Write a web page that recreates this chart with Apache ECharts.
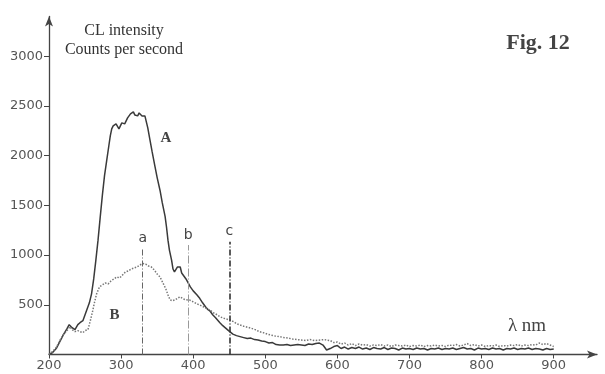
<!DOCTYPE html>
<html>
<head>
<meta charset="utf-8">
<script src="https://cdn.jsdelivr.net/npm/echarts@6/dist/echarts.min.js"></script>
<style>
html,body{margin:0;padding:0;background:#fff;}
#chart{width:605px;height:374px;}
</style>
</head>
<body>
<div id="chart"></div>
<script>
// Wavelength (nm) / intensity (counts per second)
var curveA = [
[200,0],[205,20],[210,60],[215,130],[220,200],[225,260],[228,300],[232,270],[236,250],[240,300],[243,320],[247,340],
[250,400],[253,460],[256,520],[259,610],[262,760],[265,950],[268,1150],[271,1380],[274,1600],[277,1800],[280,1950],
[283,2100],[285,2200],[287,2270],[289,2300],[291,2280],[293,2320],[295,2300],[297,2270],[299,2300],[301,2330],[303,2340],
[305,2320],[307,2350],[309,2380],[311,2390],[313,2420],[315,2400],[317,2440],[319,2410],[321,2420],[323,2400],[325,2430],
[327,2410],[329,2400],[331,2420],[333,2400],[335,2340],[337,2280],[340,2160],[343,2040],[347,1890],[350,1780],[354,1650],
[357,1530],[361,1390],[363,1280],[365,1150],[367,1050],[370,950],[372,860],[374,830],[376,850],[378,880],[380,900],
[382,880],[384,820],[387,790],[390,760],[393,720],[396,680],[400,640],[405,600],[409,565],[413,520],[417,480],[420,455],
[423,440],[427,400],[431,370],[434,345],[437,320],[441,290],[445,265],[449,240],[451,225],[455,205],[460,190],[465,180],
[470,170],[475,160],[480,165],[485,150],[490,145],[495,135],[500,130],[505,115],[510,120],[515,100],[520,96],[525,95],
[530,100],[535,90],[540,95],[545,100],[550,95],[555,90],[560,105],[565,100],[570,110],[575,115],[580,95],[585,45],
[590,60],[595,80],[600,90],[605,60],[610,75],[615,55],[620,70],[625,60],[630,75],[635,55],[640,65],[645,50],[650,70],
[655,60],[660,55],[665,70],[670,50],[675,65],[680,60],[685,45],[690,65],[695,55],[700,60],[705,50],[710,65],[715,55],
[720,60],[725,45],[730,60],[735,55],[740,65],[745,50],[750,60],[755,55],[760,65],[765,50],[770,60],[775,70],[780,55],
[785,60],[790,45],[795,65],[800,55],[805,60],[810,50],[815,65],[820,55],[825,60],[830,45],[835,60],[840,55],[845,65],
[850,50],[855,60],[860,55],[865,65],[870,50],[875,60],[880,55],[885,45],[890,60],[895,50],[900,55]
];
var curveB = [
[200,0],[205,30],[210,70],[215,140],[220,200],[225,240],[229,280],[232,250],[236,230],[240,240],[243,230],[247,220],
[250,240],[254,250],[257,330],[260,420],[263,520],[266,610],[270,680],[274,700],[278,720],[282,710],[286,740],[290,760],
[294,780],[298,770],[302,800],[306,830],[310,840],[314,860],[318,870],[322,880],[326,900],[330,915],[334,910],[338,890],
[342,880],[346,850],[350,810],[354,780],[358,720],[362,660],[365,600],[368,550],[371,540],[375,550],[379,570],[382,580],
[386,560],[390,550],[395,548],[400,530],[405,510],[409,498],[414,480],[418,465],[423,448],[428,420],[433,400],[437,380],
[442,365],[447,355],[451,347],[456,330],[460,310],[465,297],[470,285],[475,275],[480,265],[486,250],[492,229],[497,220],
[503,205],[508,195],[514,185],[520,179],[526,170],[532,165],[538,155],[544,150],[550,146],[556,140],[562,150],[568,140],
[576,146],[582,150],[590,140],[595,120],[600,125],[605,105],[610,115],[615,95],[620,110],[625,90],[630,105],[635,95],
[640,100],[645,85],[650,95],[655,90],[660,100],[665,85],[670,95],[675,80],[680,95],[685,90],[690,85],[695,95],[700,80],
[705,90],[710,85],[715,95],[720,80],[725,90],[730,85],[735,95],[740,85],[745,90],[750,80],[755,95],[760,90],[765,100],
[770,85],[775,95],[780,110],[785,90],[790,100],[795,85],[800,95],[805,80],[810,90],[815,85],[820,95],[825,80],[830,90],
[835,85],[840,95],[845,90],[850,100],[855,85],[860,95],[865,90],[870,100],[875,95],[880,115],[885,100],[890,110],
[895,95],[900,80]
];
var xTicks = [200,300,400,500,600,700,800,900];
var yTicks = [500,1000,1500,2000,2500,3000];
var markerNames = ['a','b','c'];
var markerX = [330,393,450];
var markerTop = [1071,1101,1135];
var curveLabels = [['A',362,2178],['B',291,397]];

var chart = echarts.init(document.getElementById('chart'), null, {renderer:'canvas'});
var tickFont = {fontFamily:'DejaVu Sans', fontSize:13, color:'#555', formatter:function(v){return String(v);}};
var markerStyles = [
  {color:'#666', width:1, type:[6,2,1,2]},
  {color:'#999', width:1, type:[8,2,1,2]},
  {color:'#333', width:1.6, type:[6,2,1,2]}
];
var mlData = markerX.map(function(x,i){
  return [
    {coord:[x,0], lineStyle:markerStyles[i]},
    {coord:[x,markerTop[i]], label:{show:true, formatter:markerNames[i], position:'end', distance:3,
      fontFamily:'DejaVu Sans', fontSize:14, color:'#444'}}
  ];
});
var option = {
  backgroundColor:'#ffffff',
  animation:false,
  grid:{left:49, right:8, top:16.5, bottom:19.5},
  xAxis:{
    type:'value', min:200, max:960,
    axisLine:{show:true, lineStyle:{color:'#444', width:1.3}, symbol:['none','arrow'], symbolSize:[6,10]},
    axisTick:{show:true, length:4, inside:false, customValues:xTicks, lineStyle:{color:'#444'}},
    axisLabel:Object.assign({customValues:xTicks, margin:5}, tickFont),
    splitLine:{show:false}
  },
  yAxis:{
    type:'value', min:0, max:3400,
    axisLine:{show:true, lineStyle:{color:'#444', width:1.3}, symbol:['none','arrow'], symbolSize:[6,10]},
    axisTick:{show:true, length:5, inside:false, customValues:yTicks, lineStyle:{color:'#444'}},
    axisLabel:Object.assign({customValues:yTicks, margin:6}, tickFont),
    splitLine:{show:false}
  },
  series:[
    {
      name:'A', type:'line', data:curveA, showSymbol:false, smooth:false,
      lineStyle:{color:'#3a3a3a', width:1.5},
      markLine:{silent:true, symbol:['none','none'], data:mlData},
      markPoint:{
        symbol:'circle', symbolSize:0,
        data:curveLabels.map(function(l){return {coord:[l[1],l[2]], value:l[0]};}),
        label:{show:true, fontFamily:'Liberation Serif', fontWeight:'bold', fontSize:15, color:'#444',
          formatter:function(p){return p.value;}}
      }
    },
    {
      name:'B', type:'line', data:curveB, showSymbol:false, smooth:false,
      lineStyle:{color:'#777', width:1.5, type:[1.5,1.5]}
    }
  ],
  graphic:[
    {type:'text', x:124, y:31, style:{text:'CL intensity', font:'16px "Liberation Serif"', fill:'#333', align:'center', verticalAlign:'middle'}},
    {type:'text', x:124, y:50, style:{text:'Counts per second', font:'16px "Liberation Serif"', fill:'#333', align:'center', verticalAlign:'middle'}},
    {type:'text', x:538, y:43, style:{text:'Fig. 12', font:'bold 22px "Liberation Serif"', fill:'#444', align:'center', verticalAlign:'middle'}},
    {type:'text', x:527, y:326, style:{text:'λ nm', font:'19px "Liberation Serif"', fill:'#444', align:'center', verticalAlign:'middle'}}
  ]
};
chart.setOption(option);
</script>
</body>
</html>
